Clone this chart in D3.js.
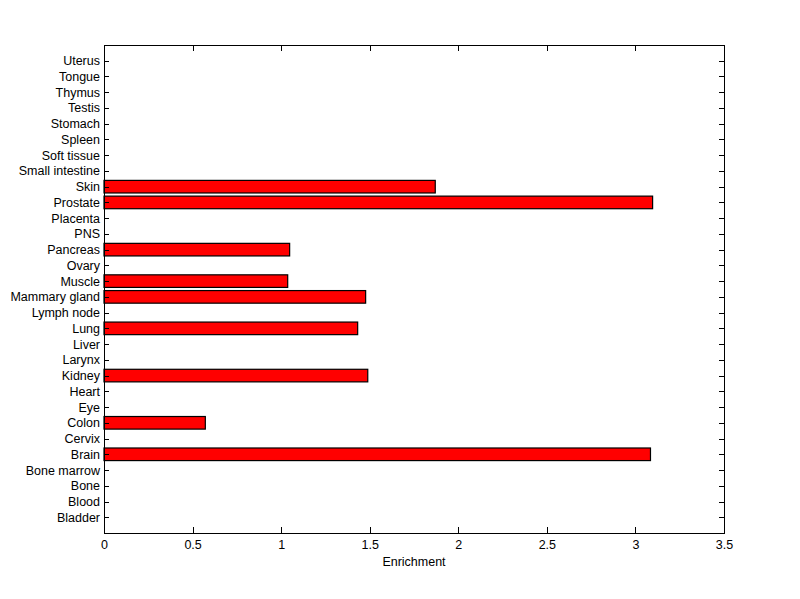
<!DOCTYPE html>
<html>
<meta charset="utf-8">
<title>Enrichment</title>
<style>
body {
  margin: 0;
  background: #fff;
  font-family: Arial, "Liberation Sans", sans-serif;
}

text {
  font-size: 12.5px;
  fill: #000;
}

.bar {
  fill: #f00;
  stroke: #000;
  stroke-width: 1.2px;
}

.frame {
  fill: none;
  stroke: #000;
  stroke-width: 1px;
  shape-rendering: crispEdges;
}

.tick line {
  stroke: #000;
  shape-rendering: crispEdges;
}
</style>
<body>
<div id="chart"></div>
<script src="https://d3js.org/d3.v7.min.js"></script>
<script>

// tissues, bottom to top
var tissues = ["Bladder", "Blood", "Bone", "Bone marrow", "Brain", "Cervix", "Colon", "Eye",
  "Heart", "Kidney", "Larynx", "Liver", "Lung", "Lymph node", "Mammary gland", "Muscle",
  "Ovary", "Pancreas", "PNS", "Placenta", "Prostate", "Skin", "Small intestine",
  "Soft tissue", "Spleen", "Stomach", "Testis", "Thymus", "Tongue", "Uterus"];

var enrichment = [0, 0, 0, 0, 3.085, 0, 0.572, 0,
  0, 1.489, 0, 0, 1.432, 0, 1.477, 1.037,
  0, 1.048, 0, 0, 3.097, 1.87, 0,
  0, 0, 0, 0, 0, 0, 0];

var xTicks = [0, 0.5, 1, 1.5, 2, 2.5, 3, 3.5];

var margin = {top: 45, right: 76, bottom: 66, left: 104},
  width = 800 - margin.left - margin.right,
  height = 599 - margin.top - margin.bottom;

var svg = d3.select("#chart").append("svg")
  .attr("width", 800)
  .attr("height", 599)
  .append("g")
  .attr("transform", "translate(" + margin.left + "," + margin.top + ")");

var x = d3.scaleLinear()
  .domain([0, 3.5])
  .range([0, width]);

// positions 1..30, axis limits 0..31 like matlab barh
var y = d3.scaleLinear()
  .domain([0, tissues.length + 1])
  .range([height, 0]);

var barH = (y(0) - y(0.8));

var data = tissues.map(function(t, i) {
  return {name: t, pos: i + 1, value: enrichment[i]};
});

// bars
svg.append("g").selectAll(".bar")
  .data(data.filter(function(d) { return d.value > 0; }))
  .enter().append("rect")
  .attr("class", "bar")
  .attr("x", x(0))
  .attr("y", function(d) { return y(d.pos) - barH / 2; })
  .attr("width", function(d) { return x(d.value) - x(0); })
  .attr("height", barH);

// bottom axis, ticks pointing in
var xAxis = svg.append("g")
  .attr("transform", "translate(0," + height + ")")
  .call(d3.axisBottom(x).tickValues(xTicks).tickSize(-6).tickPadding(13)
    .tickFormat(d3.format("")));
xAxis.select(".domain").remove();
xAxis.selectAll("text").attr("dy", "0.2em");

var xTop = svg.append("g")
  .call(d3.axisTop(x).tickValues(xTicks).tickSize(-6).tickFormat(""));
xTop.select(".domain").remove();

// left axis
var yAxis = svg.append("g")
  .call(d3.axisLeft(y).tickValues(data.map(function(d) { return d.pos; }))
    .tickSize(-5).tickPadding(4)
    .tickFormat(function(p) { return tissues[p - 1]; }));
yAxis.select(".domain").remove();

var yRight = svg.append("g")
  .attr("transform", "translate(" + width + ",0)")
  .call(d3.axisRight(y).tickValues(data.map(function(d) { return d.pos; }))
    .tickSize(-5).tickFormat(""));
yRight.select(".domain").remove();

svg.append("rect")
  .attr("class", "frame")
  .attr("x", 0.5)
  .attr("y", 0.5)
  .attr("width", width)
  .attr("height", height);

svg.append("text")
  .attr("x", width / 2)
  .attr("y", height + 33)
  .attr("text-anchor", "middle")
  .text("Enrichment");

</script>
